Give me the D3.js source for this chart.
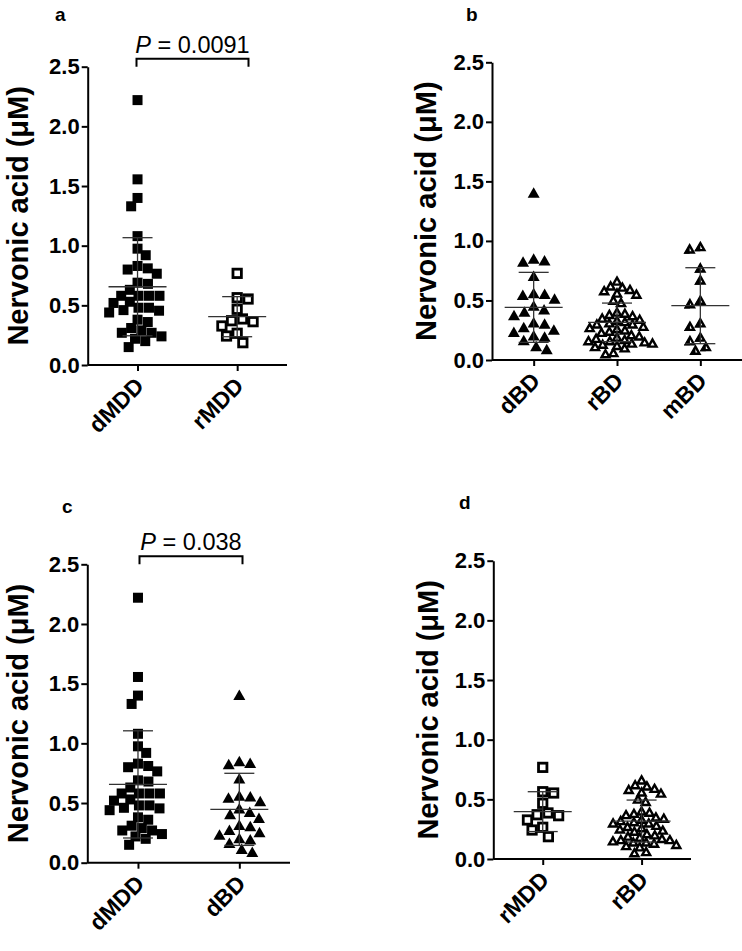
<!DOCTYPE html>
<html><head><meta charset="utf-8">
<script src="https://cdn.jsdelivr.net/npm/d3@7"></script>
<style>
body{margin:0;background:#fff;}
svg{display:block;font-family:"Liberation Sans",Arial,sans-serif;}
</style></head>
<body><svg id="chart" width="742" height="951"></svg>
<script>
// ---------- data ----------
const dMDD = [2.22,1.556,1.40,1.33,1.08,0.975,0.92,0.83,0.81,0.80,0.765,0.69,0.68,0.63,0.58,0.58,0.58,0.58,0.53,0.52,0.48,0.46,0.44,0.455,0.48,0.38,0.36,0.31,0.29,0.27,0.27,0.22,0.24,0.20,0.15];
const rMDD = [0.768,0.564,0.553,0.467,0.386,0.363,0.327,0.371,0.266,0.243,0.187];
const dBD  = [1.40,0.845,0.83,0.82,0.70,0.555,0.54,0.55,0.51,0.45,0.42,0.40,0.37,0.31,0.30,0.27,0.25,0.23,0.20,0.19,0.16,0.11,0.085];
const rBD  = [0.66,0.62,0.61,0.59,0.58,0.56,0.55,0.50,0.48,0.40,0.39,0.38,0.37,0.35,0.34,0.33,0.32,0.31,0.30,0.30,0.28,0.27,0.26,0.25,0.24,0.23,0.21,0.20,0.19,0.18,0.17,0.16,0.16,0.15,0.14,0.14,0.13,0.12,0.11,0.10,0.06,0.05];
const mBD  = [0.95,0.93,0.77,0.67,0.50,0.47,0.31,0.28,0.19,0.16,0.11,0.08];

// mean and SD bars as shown in each panel
const meanA = [0.656,0.405], sdA = [0.411,0.168];
const meanB = [0.442,0.316,0.456], sdB = [0.294,0.162,0.319];
const meanC = [0.656,0.447], sdC = [0.449,0.302];
const meanD = [0.397,0.318], sdD = [0.167,0.176];

const yTicks = [0,0.5,1.0,1.5,2.0,2.5];
const yTitle = "Nervonic acid (μM)";
const groups = {dMDD, rMDD, dBD, rBD, mBD};
const markerOf = {dMDD:"fsq", rMDD:"osq", dBD:"ftri", rBD:"otri", mBD:"htri"};
const spacingOf = {dMDD:10.5, rMDD:11, dBD:11, rBD:8, mBD:11};

const panels = [
  {letter:"a", cats:["dMDD","rMDD"], mean:meanA, sd:sdA, x0:87.7, x1:287, yBot:365, yTop:66.7, lx:55, ly:21, title:18,
   p:{text:"0.0091", a:136.5, b:248.5}},
  {letter:"b", cats:["dBD","rBD","mBD"], mean:meanB, sd:sdB, x0:492, x1:742, yBot:360, yTop:62.3, lx:466, ly:21, title:426},
  {letter:"c", cats:["dMDD","dBD"], mean:meanC, sd:sdC, x0:87.3, x1:290, yBot:862.7, yTop:564.3, lx:62, ly:513, title:18,
   p:{text:"0.038", a:139.5, b:242.5}},
  {letter:"d", cats:["rMDD","rBD"], mean:meanD, sd:sdD, x0:493.3, x1:691, yBot:859, yTop:560.7, lx:459, ly:509, title:428}
];

const svg = d3.select("#chart");
const FONT = "Liberation Sans, Arial, sans-serif";

function swarm(vals, y, D){
  const pts = vals.map((v,i)=>({v, py:y(v), i})).sort((a,b)=>a.py-b.py);
  const placed = [];
  pts.forEach((p,k)=>{
    const iv = placed.filter(q=>Math.abs(q.py-p.py)<D).map(q=>{
      const dx = Math.sqrt(D*D-(q.py-p.py)**2); return [q.x-dx,q.x+dx];});
    const cands = [0];
    iv.forEach(([a,b])=>{cands.push(a,b);});
    cands.sort((a,b)=>Math.abs(a)-Math.abs(b) || ((k%2)? a-b : b-a));
    let x = 0;
    for(const c of cands){ if(!iv.some(([a,b])=>c>a+1e-6 && c<b-1e-6)){x=c;break;} }
    p.x = x; placed.push(p);
  });
  return pts;
}

function marker(g, type){
  const w=12, h=10.5;
  const tri = `M0,${-h*0.58}L${w/2},${h*0.42}L${-w/2},${h*0.42}Z`;
  const triIn = `M0,${-h*0.58+2.3}L${w/2-2},${h*0.42-1.15}L${-w/2+2},${h*0.42-1.15}Z`;
  if(type==="fsq") g.append("rect").attr("x",-5).attr("y",-5).attr("width",10).attr("height",10).attr("fill","#000");
  else if(type==="osq") g.append("rect").attr("x",-4.2).attr("y",-4.2).attr("width",8.4).attr("height",8.4)
      .attr("fill","#fff").attr("stroke","#000").attr("stroke-width",2.8);
  else if(type==="ftri") g.append("path").attr("d",tri).attr("fill","#000");
  else if(type==="otri") g.append("path").attr("d",triIn).attr("fill","#fff").attr("stroke","#000").attr("stroke-width",2.4);
  else if(type==="htri"){
    g.append("path").attr("d",triIn).attr("fill","#fff").attr("stroke","#000").attr("stroke-width",2.4);
    g.append("path").attr("d",`M0,${-h*0.58+2}L0,${h*0.42}L${-w/2},${h*0.42}Z`).attr("fill","#000");
  }
}

panels.forEach(P=>{
  const y = d3.scaleLinear().domain([0,2.5]).range([P.yBot,P.yTop]);
  const x = d3.scalePoint().domain(P.cats).range([P.x0,P.x1]).padding(0.5);
  const g = svg.append("g");

  // y axis
  const ya = g.append("g").attr("transform",`translate(${P.x0},0)`)
    .call(d3.axisLeft(y).tickValues(yTicks).tickFormat(d3.format(".1f")).tickSize(6).tickSizeOuter(0).tickPadding(2));
  ya.selectAll("text").attr("font-size",22).attr("font-weight","bold").attr("fill","#000").attr("font-family",FONT);
  ya.selectAll("line,path").attr("stroke","#000").attr("stroke-width",2);

  // x axis
  const xa = g.append("g").attr("transform",`translate(0,${P.yBot})`)
    .call(d3.axisBottom(x).tickSize(6).tickSizeOuter(0).tickPadding(2));
  xa.select(".domain").attr("d",`M${P.x0},0H${P.x1}`);
  xa.selectAll("line,path").attr("stroke","#000").attr("stroke-width",2);
  xa.selectAll("text").attr("font-size",23).attr("font-weight","bold").attr("fill","#000")
    .attr("font-family",FONT)
    .attr("text-anchor","end").attr("dy",null).attr("y",null)
    .attr("transform","translate(3,18) rotate(-45)").attr("dominant-baseline","middle");

  // y title
  g.append("text").attr("transform",`translate(${P.title+10},${(P.yBot+P.yTop)/2}) rotate(-90)`)
    .attr("text-anchor","middle").attr("font-size",29).attr("font-weight","bold").attr("font-family",FONT).text(yTitle);

  // panel letter
  g.append("text").attr("x",P.lx).attr("y",P.ly).attr("font-size",19).attr("font-weight","bold").attr("font-family",FONT).text(P.letter);

  // points
  P.cats.forEach((c,ci)=>{
    const vals = groups[c];
    const type = markerOf[c];
    const pts = swarm(vals, y, spacingOf[c]);
    const cx = x(c);
    pts.forEach(p=>{
      const mg = g.append("g").attr("transform",`translate(${cx+p.x},${p.py})`);
      marker(mg, type);
    });
    // mean & SD bars
    const m = P.mean[ci], s = P.sd[ci];
    const eg = g.append("g").attr("stroke","#333").attr("stroke-width",1.3);
    eg.append("line").attr("x1",cx-29).attr("x2",cx+29).attr("y1",y(m)).attr("y2",y(m));
    eg.append("line").attr("x1",cx).attr("x2",cx).attr("y1",y(m+s)).attr("y2",y(m-s));
    eg.append("line").attr("x1",cx-15).attr("x2",cx+15).attr("y1",y(m+s)).attr("y2",y(m+s));
    eg.append("line").attr("x1",cx-15).attr("x2",cx+15).attr("y1",y(m-s)).attr("y2",y(m-s));
  });

  // p-value bracket
  if(P.p){
    const by = P.yTop - 8;
    g.append("path").attr("d",`M${P.p.a},${P.yTop}V${by}H${P.p.b}V${P.yTop}`)
      .attr("fill","none").attr("stroke","#000").attr("stroke-width",2);
    const t = g.append("text").attr("x",(P.p.a+P.p.b)/2).attr("y",by-6).attr("text-anchor","middle")
      .attr("font-size",23.5).attr("font-family",FONT);
    t.append("tspan").attr("font-style","italic").text("P");
    t.append("tspan").text(" = "+P.p.text);
  }
});
</script></body></html>
